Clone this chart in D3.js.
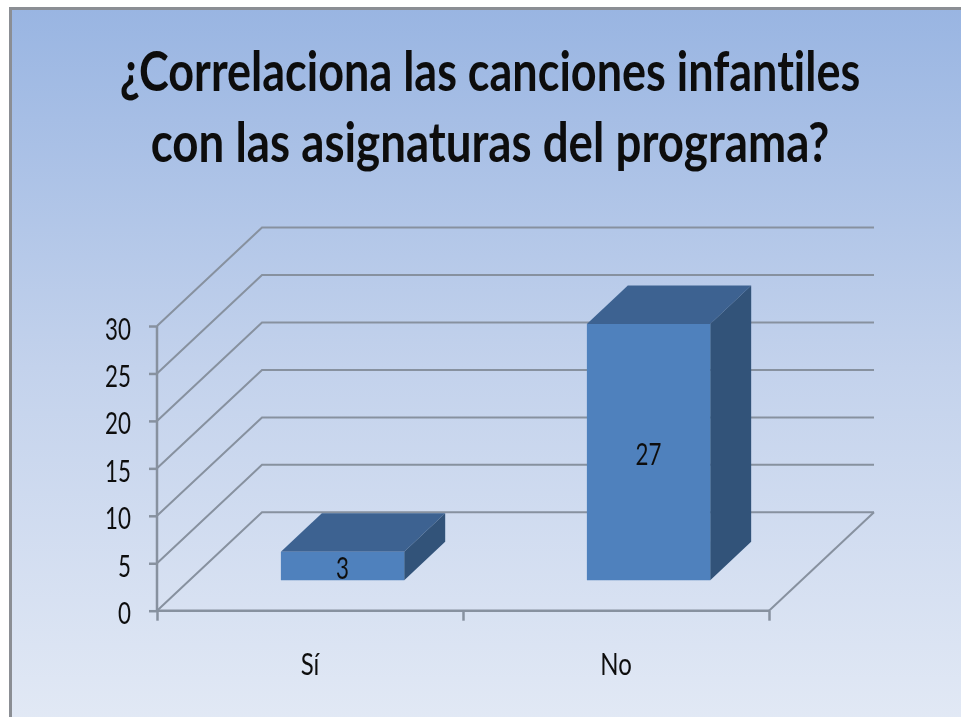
<!DOCTYPE html>
<html>
<head>
<meta charset="utf-8">
<script src="https://cdn.jsdelivr.net/npm/d3@7"></script>
<style>
html, body { margin: 0; padding: 0; background: #fff; }
svg { display: block; }
text { font-family: Lato, "Open Sans", sans-serif; fill: #111; font-variant-ligatures: none; }
</style>
</head>
<body>
<div id="chart"></div>
<script>
// data
var categories = ["Sí", "No"];
var values = [3, 27];
var yTicks = [0, 5, 10, 15, 20, 25, 30];
var titleLines = ["¿Correlaciona las canciones infantiles", "con las asignaturas del programa?"];

var width = 961, height = 717;

var svg = d3.select("#chart").append("svg")
    .attr("width", width)
    .attr("height", height);

var defs = svg.append("defs");
var grad = defs.append("linearGradient")
    .attr("id", "bg")
    .attr("x1", 0).attr("y1", 0).attr("x2", 0).attr("y2", 1);
grad.append("stop").attr("offset", "0%").attr("stop-color", "#99b5e2");
grad.append("stop").attr("offset", "50%").attr("stop-color", "#c3d2ec");
grad.append("stop").attr("offset", "100%").attr("stop-color", "#e2e9f5");

defs.append("filter").attr("id", "soft")
    .append("feGaussianBlur").attr("stdDeviation", 0.6);

// panel
svg.append("rect")
    .attr("x", 10.5).attr("y", 8.5)
    .attr("width", width).attr("height", height)
    .attr("fill", "url(#bg)")
    .attr("stroke", "#8b8e94")
    .attr("stroke-width", 3);

var g = svg.append("g").attr("filter", "url(#soft)");

// front plane scales
var x = d3.scaleBand().domain(categories).range([157, 769]);
var y = d3.scaleLinear().domain([0, 30]).range([610.7, 326]);
// 0 = front of the floor, 1 = back wall
var depthX = d3.scaleLinear().domain([0, 1]).range([0, 105]);
var depthY = d3.scaleLinear().domain([0, 1]).range([0, -98.4]);

var barWidth = 0.403;
var barDepth = [0.31, 0.7];

var gridColor = "#87919f";
var labelScale = "scale(1,1.27)";

// gridlines: slanted side wall + back wall
var line = d3.line();
g.append("g").selectAll("path")
    .data(yTicks)
    .enter().append("path")
    .attr("fill", "none")
    .attr("stroke", gridColor)
    .attr("stroke-width", 2)
    .attr("d", function(d) {
        return line([
            [x.range()[0], y(d)],
            [x.range()[0] + depthX(1), y(d) + depthY(1)],
            [x.range()[1] + depthX(1), y(d) + depthY(1)]
        ]);
    });

// floor right edge
g.append("path")
    .attr("fill", "none")
    .attr("stroke", gridColor)
    .attr("stroke-width", 2)
    .attr("d", line([
        [x.range()[1], y(0)],
        [x.range()[1] + depthX(1), y(0) + depthY(1)]
    ]));

// bars
var bars = g.append("g").selectAll("g")
    .data(categories)
    .enter().append("g");

function corners(i) {
    var c = categories[i];
    var off = depthX(barDepth[0]);
    var offY = depthY(barDepth[0]);
    var x0 = x(c) + x.bandwidth() * (1 - barWidth) / 2 + off;
    var x1 = x0 + x.bandwidth() * barWidth;
    var yb = y(0) + offY;
    var yt = y(values[i]) + offY;
    var dx = depthX(barDepth[1] - barDepth[0]);
    var dy = depthY(barDepth[1] - barDepth[0]);
    return { x0: x0, x1: x1, yb: yb, yt: yt, dx: dx, dy: dy };
}

bars.append("path")
    .attr("fill", "#3c6291")
    .attr("d", function(d, i) {
        var k = corners(i);
        return line([[k.x0, k.yt], [k.x0 + k.dx, k.yt + k.dy], [k.x1 + k.dx, k.yt + k.dy], [k.x1, k.yt]]) + "Z";
    });
bars.append("path")
    .attr("fill", "#315279")
    .attr("d", function(d, i) {
        var k = corners(i);
        return line([[k.x1, k.yt], [k.x1 + k.dx, k.yt + k.dy], [k.x1 + k.dx, k.yb + k.dy], [k.x1, k.yb]]) + "Z";
    });
bars.append("path")
    .attr("fill", "#4f81bd")
    .attr("d", function(d, i) {
        var k = corners(i);
        return line([[k.x0, k.yt], [k.x1, k.yt], [k.x1, k.yb], [k.x0, k.yb]]) + "Z";
    });

// axes
var yAxis = g.append("g")
    .attr("transform", "translate(" + x.range()[0] + ",0)")
    .call(d3.axisLeft(y).tickValues(yTicks).tickSize(8));
var xAxis = g.append("g")
    .attr("transform", "translate(0," + y(0) + ")")
    .call(d3.axisBottom(d3.scalePoint().domain([0, 1, 2]).range(x.range())).tickSize(10).tickFormat(""));

[yAxis, xAxis].forEach(function(a) {
    a.selectAll("path, line").attr("stroke", gridColor).attr("stroke-width", 2.5);
});
yAxis.select(".domain").attr("d", "M0," + y(30) + "V" + y(0));
xAxis.select(".domain").attr("d", "M" + x.range()[0] + ",0H" + x.range()[1]);

// stretch the digits vertically like the picture
yAxis.selectAll("text")
    .style("font-size", "24px")
    .style("font-family", "Lato")
    .attr("x", null)
    .attr("y", null)
    .attr("dy", null)
    .attr("text-anchor", "end")
    .attr("transform", "translate(-26,13) scale(0.93,1.27)");

// category labels
g.append("g").selectAll("text")
    .data(categories)
    .enter().append("text")
    .attr("text-anchor", "middle")
    .attr("font-size", 24)
    .attr("transform", function(d) {
        return "translate(" + (x(d) + x.bandwidth() / 2) + ",675) " + labelScale;
    })
    .text(function(d) { return d; });

// value labels
g.append("g").selectAll("text")
    .data(categories)
    .enter().append("text")
    .attr("text-anchor", "middle")
    .attr("font-size", 24)
    .attr("transform", function(d, i) {
        var k = corners(i);
        return "translate(" + ((k.x0 + k.x1) / 2) + "," + ((k.yt + k.yb) / 2 + 13) + ") scale(0.93,1.27)";
    })
    .text(function(d, i) { return values[i]; });

// title
var titleY = [91, 162];
var titleSx = [0.9, 0.914];
g.append("g").selectAll("text")
    .data(titleLines)
    .enter().append("text")
    .attr("text-anchor", "middle")
    .attr("font-size", 50)
    .attr("font-weight", 700)
    .attr("transform", function(d, i) {
        return "translate(490," + titleY[i] + ") scale(" + titleSx[i] + ",1.1)";
    })
    .text(function(d) { return d; });
</script>
</body>
</html>
